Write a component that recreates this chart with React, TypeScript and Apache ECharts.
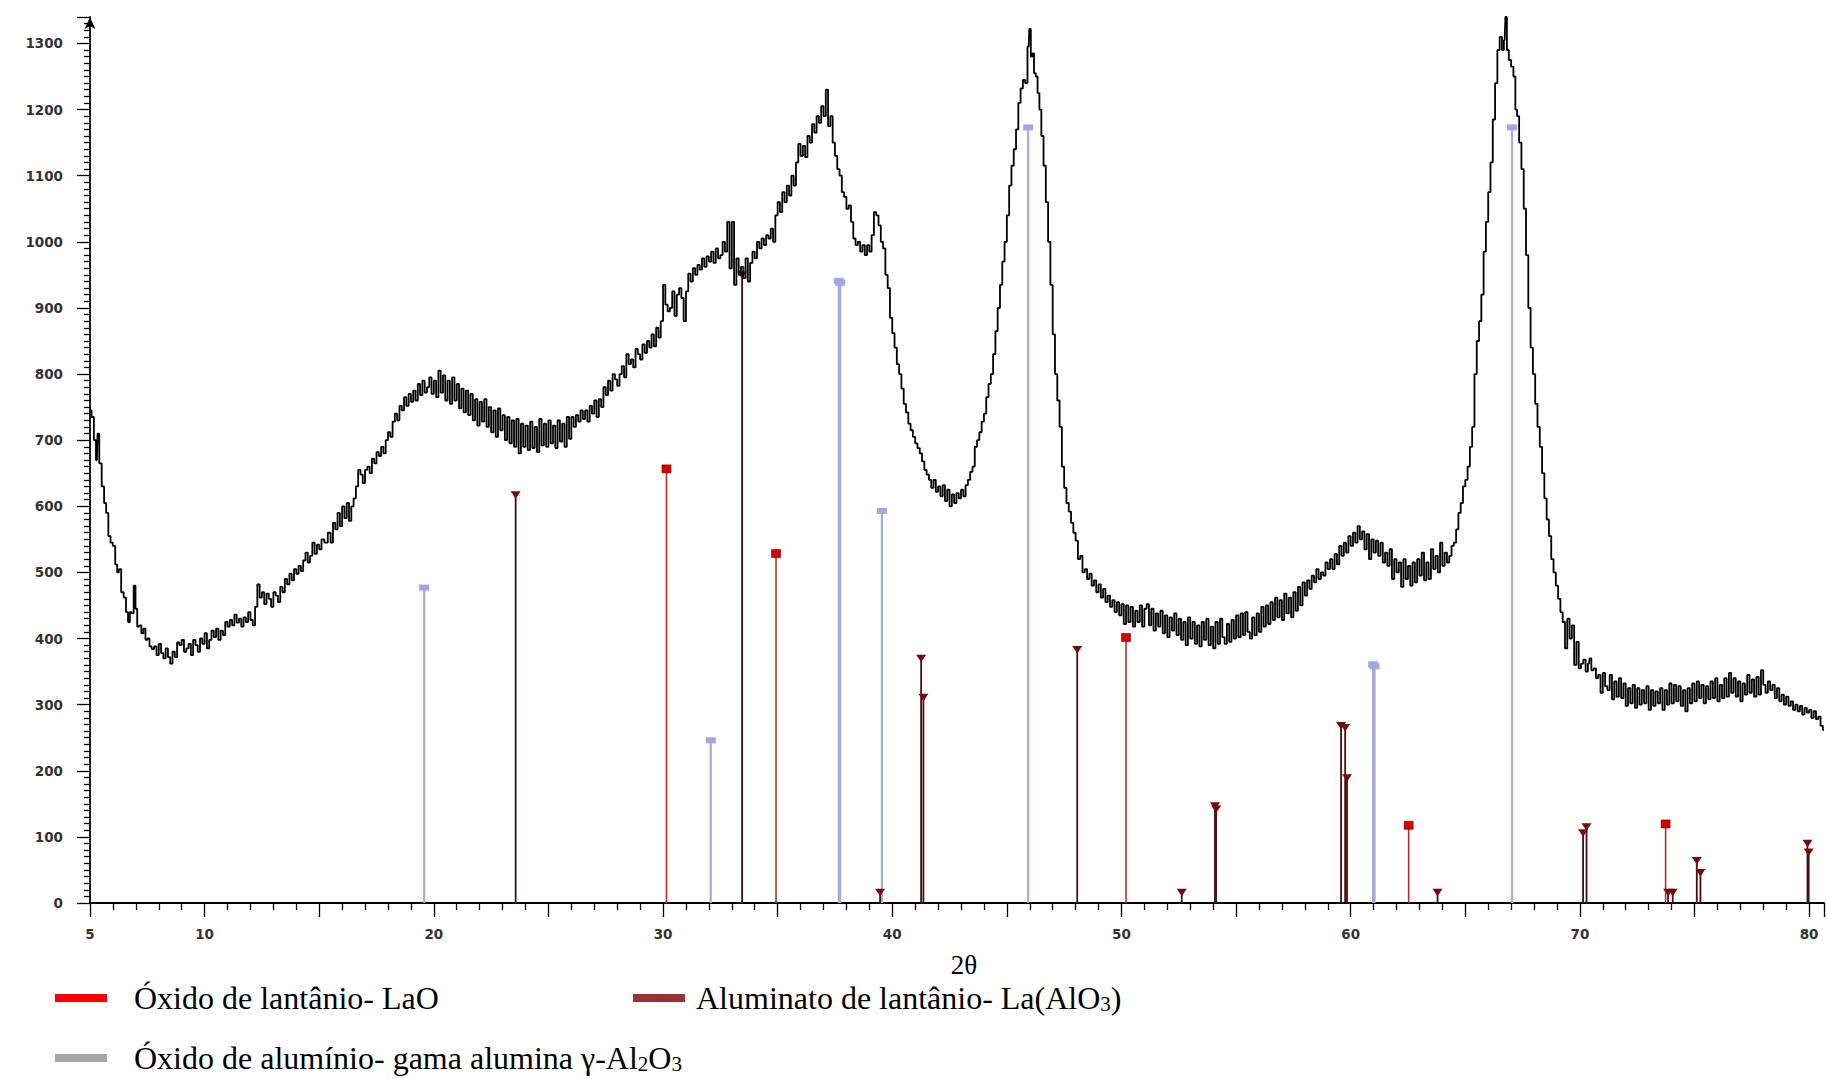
import React, { useEffect, useRef } from "react";
import * as echarts from "echarts";

// ---- Data ----
// Measured diffractogram: [2θ (degrees), intensity (counts)]
const diffractogram: [number, number][] = [
  [5.02,745],[5.12,735],[5.22,700],[5.3,670],[5.36,710],[5.45,665],[5.57,630],[5.66,605],[5.75,590],[5.85,555],
  [5.94,545],[6.05,540],[6.15,512],[6.22,500],[6.3,505],[6.42,470],[6.52,462],[6.62,440],[6.7,425],[6.78,440],
  [6.86,438],[6.95,480],[7.02,445],[7.1,418],[7.2,420],[7.28,408],[7.38,415],[7.46,398],[7.55,400],[7.64,388],
  [7.74,384],[7.85,388],[7.95,375],[8.05,392],[8.15,378],[8.25,370],[8.35,385],[8.45,372],[8.55,362],[8.65,380],
  [8.75,372],[8.85,394],[8.95,390],[9.05,398],[9.15,380],[9.25,385],[9.35,392],[9.45,375],[9.55,398],[9.65,390],
  [9.75,380],[9.85,400],[9.95,392],[10.05,408],[10.15,385],[10.25,398],[10.35,412],[10.45,402],[10.55,415],[10.65,398],
  [10.75,412],[10.85,405],[10.95,425],[11.05,418],[11.15,428],[11.25,420],[11.35,436],[11.45,424],[11.55,430],[11.65,418],
  [11.75,432],[11.85,425],[11.95,440],[12.05,428],[12.15,420],[12.25,448],[12.35,482],[12.45,462],[12.55,470],[12.65,452],
  [12.75,468],[12.85,460],[12.95,448],[13.05,470],[13.15,465],[13.25,455],[13.35,478],[13.45,470],[13.55,490],[13.65,482],
  [13.75,498],[13.85,488],[13.95,505],[14.05,498],[14.15,510],[14.25,502],[14.35,518],[14.45,530],[14.55,515],[14.65,525],
  [14.75,545],[14.85,528],[14.95,542],[15.05,535],[15.15,550],[15.3,545],[15.45,560],[15.55,545],[15.65,575],[15.75,565],
  [15.85,590],[15.95,570],[16.05,600],[16.15,582],[16.25,605],[16.35,578],[16.45,600],[16.55,612],[16.65,630],[16.75,655],
  [16.85,648],[16.95,635],[17.05,655],[17.15,660],[17.25,650],[17.35,672],[17.45,665],[17.55,682],[17.65,676],[17.75,690],
  [17.85,680],[17.95,700],[18.05,712],[18.15,705],[18.25,728],[18.35,740],[18.45,730],[18.55,752],[18.65,745],[18.75,765],
  [18.85,752],[18.95,770],[19.05,758],[19.15,775],[19.25,760],[19.35,785],[19.45,768],[19.55,790],[19.65,772],[19.75,780],
  [19.85,795],[19.95,770],[20.05,790],[20.15,765],[20.25,805],[20.35,772],[20.45,798],[20.55,760],[20.65,790],[20.75,755],
  [20.85,795],[20.95,760],[21.05,785],[21.15,748],[21.25,778],[21.35,742],[21.45,775],[21.55,738],[21.65,770],[21.75,730],
  [21.85,762],[21.95,722],[22.05,758],[22.15,728],[22.25,762],[22.35,720],[22.45,750],[22.55,712],[22.65,745],[22.75,705],
  [22.85,748],[22.95,715],[23.05,738],[23.15,700],[23.25,735],[23.35,695],[23.45,730],[23.55,690],[23.65,732],[23.75,680],
  [23.85,725],[23.95,690],[24.05,722],[24.15,685],[24.25,728],[24.35,688],[24.45,720],[24.55,682],[24.65,732],[24.75,692],
  [24.85,725],[24.95,690],[25.05,730],[25.15,695],[25.25,722],[25.35,688],[25.45,730],[25.55,698],[25.65,725],[25.75,690],
  [25.85,735],[25.95,702],[26.05,735],[26.15,720],[26.25,738],[26.35,728],[26.45,745],[26.55,732],[26.65,745],[26.75,728],
  [26.85,752],[26.95,740],[27.05,760],[27.15,735],[27.25,762],[27.35,750],[27.45,780],[27.55,768],[27.65,790],[27.75,775],
  [27.85,800],[27.95,792],[28.05,782],[28.15,800],[28.25,812],[28.35,795],[28.45,830],[28.55,815],[28.65,822],[28.75,810],
  [28.85,838],[28.95,830],[29.05,822],[29.15,845],[29.25,832],[29.35,850],[29.45,840],[29.55,860],[29.65,842],[29.75,870],
  [29.85,855],[29.95,880],[30.05,935],[30.15,905],[30.25,895],[30.35,900],[30.45,925],[30.55,888],[30.65,920],[30.75,930],
  [30.85,915],[30.95,880],[31.05,925],[31.15,952],[31.25,940],[31.35,960],[31.45,950],[31.55,965],[31.65,958],[31.75,975],
  [31.85,962],[31.95,978],[32.05,970],[32.15,985],[32.25,968],[32.35,990],[32.45,975],[32.55,980],[32.65,1000],[32.75,985],
  [32.85,1030],[32.95,960],[33.05,1030],[33.15,935],[33.25,975],[33.35,950],[33.45,962],[33.55,945],[33.65,975],[33.75,940],
  [33.85,968],[33.95,985],[34.05,975],[34.15,1000],[34.25,990],[34.35,1005],[34.45,995],[34.55,1010],[34.65,1005],[34.75,1020],
  [34.85,1000],[34.95,1040],[35.05,1060],[35.15,1045],[35.25,1075],[35.35,1060],[35.45,1085],[35.55,1070],[35.65,1100],[35.75,1085],
  [35.85,1120],[35.95,1148],[36.05,1130],[36.15,1145],[36.25,1128],[36.35,1160],[36.45,1150],[36.55,1178],[36.65,1165],[36.75,1190],
  [36.85,1180],[36.95,1205],[37.05,1190],[37.15,1230],[37.25,1175],[37.35,1190],[37.45,1150],[37.55,1130],[37.65,1110],[37.75,1100],
  [37.85,1075],[37.95,1068],[38.05,1050],[38.15,1055],[38.25,1030],[38.35,1005],[38.45,995],[38.55,1000],[38.65,985],[38.75,995],
  [38.85,980],[38.95,995],[39.05,985],[39.15,1010],[39.25,1045],[39.35,1040],[39.45,1025],[39.55,1000],[39.65,990],[39.75,950],
  [39.85,930],[39.95,885],[40.05,862],[40.15,840],[40.25,815],[40.35,800],[40.45,778],[40.55,755],[40.65,742],[40.75,725],
  [40.85,715],[40.95,705],[41.05,695],[41.15,688],[41.25,680],[41.35,668],[41.45,655],[41.55,648],[41.65,640],[41.75,628],
  [41.85,640],[41.95,622],[42.05,630],[42.15,615],[42.25,632],[42.35,608],[42.45,625],[42.55,600],[42.65,618],[42.75,605],
  [42.85,620],[42.95,612],[43.05,625],[43.15,615],[43.25,632],[43.35,640],[43.45,652],[43.55,660],[43.65,690],[43.75,700],
  [43.85,712],[43.95,728],[44.05,740],[44.15,765],[44.25,785],[44.35,800],[44.45,830],[44.55,865],[44.65,900],[44.75,935],
  [44.85,970],[44.95,1000],[45.05,1040],[45.15,1085],[45.25,1115],[45.35,1140],[45.45,1170],[45.55,1210],[45.65,1232],[45.75,1245],
  [45.85,1240],[45.95,1295],[46.01,1322],[46.08,1280],[46.15,1285],[46.22,1255],[46.3,1250],[46.38,1225],[46.46,1200],[46.55,1160],
  [46.65,1115],[46.75,1060],[46.85,1000],[46.95,935],[47.05,860],[47.15,800],[47.25,760],[47.35,720],[47.45,660],[47.55,628],
  [47.65,605],[47.75,592],[47.85,575],[47.95,560],[48.05,548],[48.15,520],[48.25,525],[48.35,500],[48.45,505],[48.55,490],
  [48.65,498],[48.75,480],[48.85,488],[48.95,470],[49.05,482],[49.15,462],[49.25,475],[49.35,455],[49.45,465],[49.55,448],
  [49.65,458],[49.75,440],[49.85,455],[49.95,435],[50.05,452],[50.15,422],[50.25,450],[50.35,425],[50.45,448],[50.55,418],
  [50.65,442],[50.75,425],[50.85,450],[50.95,418],[51.05,445],[51.15,452],[51.25,420],[51.35,445],[51.45,412],[51.55,438],
  [51.65,418],[51.75,442],[51.85,408],[51.95,435],[52.05,402],[52.15,432],[52.25,412],[52.35,438],[52.45,405],[52.55,430],
  [52.65,398],[52.75,425],[52.85,390],[52.95,432],[53.05,400],[53.15,425],[53.25,392],[53.35,420],[53.45,388],[53.55,425],
  [53.65,398],[53.75,430],[53.85,390],[53.95,418],[54.05,385],[54.15,425],[54.25,392],[54.35,430],[54.45,402],[54.55,392],
  [54.65,422],[54.75,395],[54.85,428],[54.95,400],[55.05,435],[55.15,402],[55.25,438],[55.35,405],[55.45,440],[55.55,410],
  [55.65,400],[55.75,432],[55.85,405],[55.95,438],[56.05,410],[56.15,448],[56.25,418],[56.35,450],[56.45,422],[56.55,455],
  [56.65,428],[56.75,462],[56.85,432],[56.95,458],[57.05,428],[57.15,468],[57.25,438],[57.35,462],[57.45,432],[57.55,470],
  [57.65,442],[57.75,478],[57.85,450],[57.95,485],[58.05,465],[58.15,488],[58.25,475],[58.35,495],[58.45,485],[58.55,505],
  [58.65,490],[58.75,500],[58.85,495],[58.95,515],[59.05,505],[59.15,520],[59.25,505],[59.35,528],[59.45,512],[59.55,540],
  [59.65,525],[59.75,545],[59.85,530],[59.95,555],[60.05,540],[60.15,560],[60.25,545],[60.35,570],[60.45,550],[60.55,562],
  [60.65,535],[60.75,558],[60.85,520],[60.95,550],[61.05,530],[61.15,548],[61.25,525],[61.35,545],[61.45,515],[61.55,530],
  [61.65,510],[61.75,535],[61.85,490],[61.95,520],[62.05,500],[62.15,515],[62.25,478],[62.35,520],[62.45,490],[62.55,510],
  [62.65,480],[62.75,515],[62.85,485],[62.95,520],[63.05,495],[63.15,530],[63.25,488],[63.35,515],[63.45,490],[63.55,535],
  [63.65,505],[63.75,525],[63.85,500],[63.95,545],[64.05,510],[64.15,530],[64.25,515],[64.35,525],[64.45,540],[64.55,545],
  [64.65,565],[64.75,590],[64.85,605],[64.95,630],[65.05,640],[65.15,660],[65.25,690],[65.35,720],[65.45,800],[65.55,850],
  [65.65,880],[65.75,920],[65.85,985],[65.95,1030],[66.05,1075],[66.15,1120],[66.25,1185],[66.35,1240],[66.45,1290],[66.55,1310],
  [66.65,1290],[66.72,1305],[66.78,1340],[66.85,1290],[66.95,1275],[67.05,1265],[67.15,1250],[67.22,1200],[67.3,1190],[67.4,1150],
  [67.5,1110],[67.6,1050],[67.7,980],[67.8,900],[67.9,840],[68.0,800],[68.1,755],[68.2,720],[68.3,690],[68.4,650],
  [68.5,612],[68.6,580],[68.7,555],[68.8,520],[68.9,500],[69.0,480],[69.1,460],[69.2,440],[69.3,425],[69.4,385],
  [69.5,430],[69.6,400],[69.7,420],[69.8,360],[69.9,395],[70.0,355],[70.1,362],[70.2,368],[70.3,350],[70.4,362],
  [70.45,370],[70.55,352],[70.65,355],[70.75,340],[70.85,345],[70.95,318],[71.05,348],[71.15,328],[71.25,322],[71.35,345],
  [71.45,308],[71.55,335],[71.65,312],[71.75,340],[71.85,310],[71.95,332],[72.05,298],[72.15,325],[72.25,302],[72.35,330],
  [72.45,295],[72.55,325],[72.65,300],[72.75,322],[72.85,302],[72.95,328],[73.05,292],[73.15,322],[73.25,298],[73.35,320],
  [73.45,302],[73.55,325],[73.65,292],[73.75,322],[73.85,300],[73.95,332],[74.05,302],[74.15,330],[74.25,305],[74.35,328],
  [74.45,298],[74.55,322],[74.65,290],[74.75,325],[74.85,302],[74.95,332],[75.05,305],[75.15,335],[75.25,310],[75.35,330],
  [75.45,302],[75.55,328],[75.65,308],[75.75,335],[75.85,310],[75.95,340],[76.05,305],[76.15,330],[76.25,310],[76.35,340],
  [76.45,312],[76.55,348],[76.65,318],[76.75,340],[76.85,312],[76.95,335],[77.05,305],[77.15,332],[77.25,315],[77.35,345],
  [77.45,318],[77.55,338],[77.65,312],[77.75,342],[77.85,315],[77.95,352],[78.05,330],[78.15,318],[78.25,335],[78.35,322],
  [78.45,330],[78.55,310],[78.65,325],[78.75,305],[78.85,315],[78.95,300],[79.05,312],[79.15,298],[79.25,305],[79.35,292],
  [79.45,300],[79.55,290],[79.65,298],[79.75,285],[79.85,295],[79.95,288],[80.05,292],[80.15,280],[80.25,290],[80.35,278],
  [80.45,282],[80.55,268],[80.65,262],
];

// Reference patterns (stick positions in 2θ and relative heights in counts)
const laoTheta = [30.15, 34.93, 50.2, 62.53, 73.74];
const laoCounts = [652, 524, 397, 113, 115];

const laAlO3Theta = [23.57, 33.45, 39.47, 41.26, 41.36, 48.07, 52.63, 54.08, 54.13, 59.58, 59.76, 59.84, 63.79, 70.14, 70.29, 73.85, 74.05, 75.1, 75.26, 79.93, 79.98];
const laAlO3Counts = [615, 948, 14, 368, 309, 381, 14, 145, 140, 266, 263, 187, 14, 104, 113, 14, 14, 62, 44, 88, 75];

const al2o3Theta = [19.58, 32.08, 37.67, 37.73, 39.55, 45.93, 60.98, 61.04, 67.04];
const al2o3Counts = [474, 243, 938, 935, 590, 1170, 358, 355, 1170];

const xTickLabels = [5, 10, 20, 30, 40, 50, 60, 70, 80];

const NAME_LAO = "Óxido de lantânio- LaO";
const NAME_LAALO3 = "Aluminato de lantânio- La(AlO3)";
const NAME_AL2O3 = "Óxido de alumínio- gama alumina γ-Al2O3";

const SERIF = '"Liberation Serif", "Times New Roman", serif';
const SANS = '"DejaVu Sans", Verdana, sans-serif';

type MarkerKind = "square" | "bar" | "triangle";

function stickSeries(
  name: string,
  theta: number[],
  counts: number[],
  stickColor: string,
  stickWidth: number,
  marker: MarkerKind,
  markerColor: string
) {
  return {
    type: "custom",
    name,
    z: 2,
    silent: true,
    data: theta.map((t, i) => [t, counts[i]]),
    encode: { x: 0, y: 1 },
    itemStyle: { color: markerColor },
    renderItem: (_params: any, api: any) => {
      const t = api.value(0);
      const c = api.value(1);
      const top = api.coord([t, c]);
      const base = api.coord([t, 0]);
      const children: any[] = [
        {
          type: "line",
          shape: { x1: top[0], y1: top[1], x2: base[0], y2: base[1] },
          style: { stroke: stickColor, lineWidth: stickWidth },
        },
      ];
      if (marker === "square") {
        children.push({
          type: "rect",
          shape: { x: top[0] - 4.5, y: top[1] - 7, width: 9, height: 8 },
          style: { fill: markerColor, stroke: "#7a0000", lineWidth: 0.6 },
        });
      } else if (marker === "bar") {
        children.push({
          type: "rect",
          shape: { x: top[0] - 5, y: top[1] - 5, width: 10, height: 6 },
          style: { fill: markerColor },
        });
      } else {
        children.push({
          type: "polygon",
          shape: {
            points: [
              [top[0] - 5, top[1] - 5],
              [top[0] + 5, top[1] - 5],
              [top[0], top[1] + 2.5],
            ],
          },
          style: { fill: markerColor },
        });
      }
      return { type: "group", children };
    },
  };
}

function legendRich(gap: number) {
  return {
    f: { fontFamily: SERIF, fontSize: 32, color: "#000", lineHeight: 32, padding: [0, 0, 0, gap] },
    t: { fontFamily: SERIF, fontSize: 32, color: "#000", lineHeight: 32 },
    s: { fontFamily: SERIF, fontSize: 21, color: "#000", lineHeight: 19, verticalAlign: "bottom" },
  };
}

const legendText: Record<string, string> = {
  [NAME_LAO]: "{f|Óxido de lantânio- LaO}",
  [NAME_LAALO3]: "{f|Aluminato de lantânio- La(AlO}{s|3}{t|)}",
  [NAME_AL2O3]: "{f|Óxido de alumínio- gama alumina γ-Al}{s|2}{t|O}{s|3}",
};

export default function App() {
  const ref = useRef<HTMLDivElement>(null);

  useEffect(() => {
    if (!ref.current) return;
    const chart = echarts.init(ref.current, undefined, { renderer: "svg" });

    const legendBase = {
      orient: "horizontal",
      itemWidth: 52,
      itemHeight: 8,
      icon: "rect",
      selectedMode: false,
      padding: 0,
      formatter: (n: string) => legendText[n] ?? n,
    };

    const tickLabelStyle = {
      fontFamily: SANS,
      fontSize: 13.5,
      fontWeight: "bold",
      color: "#333",
    };

    const option: any = {
      animation: false,
      backgroundColor: "#ffffff",
      grid: { left: 90, right: 0, top: 17, bottom: 176, containLabel: false },
      legend: [
        {
          ...legendBase,
          left: 55,
          top: 982,
          data: [{ name: NAME_LAO, itemStyle: { color: "#ff0000" } }],
          textStyle: { rich: legendRich(22) },
        },
        {
          ...legendBase,
          left: 633,
          top: 982,
          data: [{ name: NAME_LAALO3, itemStyle: { color: "#993333" } }],
          textStyle: { rich: legendRich(6) },
        },
        {
          ...legendBase,
          left: 55,
          top: 1042,
          data: [{ name: NAME_AL2O3, itemStyle: { color: "#a6a6a6" } }],
          textStyle: { rich: legendRich(22) },
        },
      ],
      xAxis: {
        type: "value",
        min: 5,
        max: 80.65,
        interval: 5,
        name: "2θ",
        nameLocation: "middle",
        nameGap: 48,
        nameTextStyle: { fontFamily: SERIF, fontSize: 27, lineHeight: 27, color: "#000", padding: [0, 0, 0, 14] },
        axisLine: { show: true, onZero: false, lineStyle: { color: "#000", width: 1.8 } },
        axisTick: { show: true, length: 14, lineStyle: { color: "#000", width: 1.3 } },
        minorTick: { show: true, splitNumber: 5, length: 7, lineStyle: { color: "#000", width: 1.3 } },
        splitLine: { show: false },
        axisLabel: {
          ...tickLabelStyle,
          margin: 24,
          formatter: (v: number) => (xTickLabels.some((l) => Math.abs(l - v) < 1e-6) ? String(Math.round(v)) : ""),
        },
      },
      yAxis: {
        type: "value",
        min: 0,
        max: 1340,
        interval: 100,
        axisLine: {
          show: true,
          onZero: false,
          symbol: ["none", "arrow"],
          symbolSize: [8, 12],
          lineStyle: { color: "#000", width: 1.8 },
        },
        axisTick: { show: true, length: 13, lineStyle: { color: "#000", width: 1.3 } },
        minorTick: { show: true, splitNumber: 10, length: 6, lineStyle: { color: "#000", width: 1.3 } },
        splitLine: { show: false },
        axisLabel: {
          ...tickLabelStyle,
          margin: 27,
          formatter: (v: number) => (Math.abs(v % 100) < 1e-6 ? String(v) : ""),
        },
      },
      series: [
        stickSeries(NAME_AL2O3, al2o3Theta, al2o3Counts, "#a9a9dc", 2.2, "bar", "#a4a4e6"),
        stickSeries(NAME_LAO, laoTheta, laoCounts, "#b03030", 1.6, "square", "#d40000"),
        stickSeries(NAME_LAALO3, laAlO3Theta, laAlO3Counts, "#4a0c0c", 1.8, "triangle", "#7a0a0a"),
        {
          type: "line",
          name: "Difratograma",
          data: diffractogram,
          step: "middle",
          showSymbol: false,
          symbol: "none",
          silent: true,
          z: 5,
          lineStyle: { color: "#000", width: 1.8 },
        },
      ],
    };

    chart.setOption(option);
    return () => chart.dispose();
  }, []);

  return (
    <div
      ref={ref}
      style={{ position: "fixed", left: 0, top: 0, width: 1827, height: 1079, background: "#fff" }}
    />
  );
}
